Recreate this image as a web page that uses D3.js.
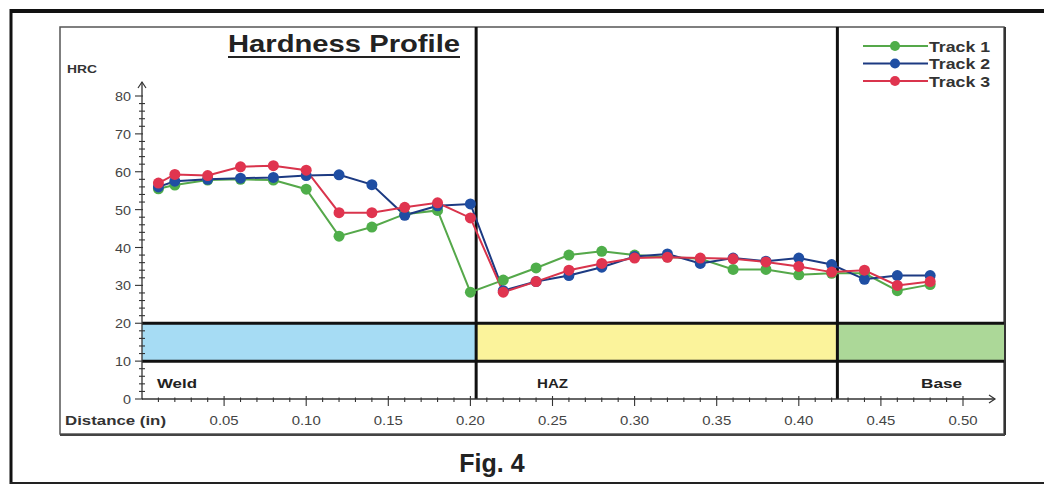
<!DOCTYPE html>
<html><head><meta charset="utf-8">
<script src="https://cdn.jsdelivr.net/npm/d3@7"></script>
<style>html,body{margin:0;padding:0;background:#fff;}svg{display:block;font-family:"Liberation Sans",Arial,sans-serif;}</style>
</head><body>
<svg id="c" width="1044" height="485"></svg>
<script>
const distances = [0.01,0.02,0.04,0.06,0.08,0.10,0.12,0.14,0.16,0.18,0.20,0.22,0.24,0.26,0.28,0.30,0.32,0.34,0.36,0.38,0.40,0.42,0.44,0.46,0.48];
const track1 = [55.5,56.5,57.8,58,57.8,55.4,43,45.4,48.8,49.8,28.2,31.4,34.6,38,39,38,37.5,37,34.2,34.2,32.8,33.2,33.2,28.6,30.2];
const track2 = [56,57.5,58,58.3,58.5,59,59.2,56.6,48.5,51,51.5,28.6,31,32.6,34.8,37.6,38.3,35.8,37.2,36.4,37.2,35.5,31.6,32.6,32.6];
const track3 = [57,59.3,59,61.3,61.6,60.4,49.2,49.2,50.6,51.8,47.8,28.2,31,34,35.8,37.2,37.4,37.2,37,36.2,35,33.5,34,30,31];
const seriesNames = ["Track 1","Track 2","Track 3"];
const xTicks = [0.05,0.10,0.15,0.20,0.25,0.30,0.35,0.40,0.45,0.50];
const yTicks = [0,10,20,30,40,50,60,70,80];
const zones = [{name:"Weld",from:0,to:0.2035},{name:"HAZ",from:0.2035,to:0.4235},{name:"Base",from:0.4235,to:0.6}];

const svg = d3.select("#c");
const x = d3.scaleLinear().domain([0,0.5]).range([142,963]);
const y = d3.scaleLinear().domain([0,80]).range([399,96]);
const boxR = 1004;

function txt(xp, yp, s, size, weight, fill, len, anchor){
  const t = svg.append("text").attr("x",xp).attr("y",yp).attr("font-size",size).attr("fill",fill).text(s);
  if (weight) t.attr("font-weight",weight);
  if (anchor) t.attr("text-anchor",anchor);
  if (len) t.attr("textLength",len).attr("lengthAdjust","spacingAndGlyphs");
  return t;
}

// outer frame
svg.append("line").attr("x1",10).attr("x2",1044).attr("y1",11).attr("y2",11).attr("stroke","#111").attr("stroke-width",4);
svg.append("line").attr("x1",11).attr("x2",11).attr("y1",9).attr("y2",484).attr("stroke","#111").attr("stroke-width",3);
svg.append("line").attr("x1",10).attr("x2",1044).attr("y1",483).attr("y2",483).attr("stroke","#222").attr("stroke-width",2);

// inner box
svg.append("rect").attr("x",60).attr("y",27).attr("width",boxR-60).attr("height",407).attr("fill","#fff").attr("stroke","#555").attr("stroke-width",1.5);
svg.append("line").attr("x1",boxR+1).attr("x2",boxR+1).attr("y1",27).attr("y2",435).attr("stroke","#333").attr("stroke-width",2);
svg.append("line").attr("x1",60).attr("x2",boxR+1).attr("y1",435).attr("y2",435).attr("stroke","#444").attr("stroke-width",2);

// zone bands
const bandCol = {"Weld":"#a6dcf4","HAZ":"#fbf39b","Base":"#acd898"};
zones.forEach(z=>{
  const x0 = x(z.from), x1 = Math.min(x(z.to), boxR);
  svg.append("rect").attr("x",x0).attr("y",y(20)).attr("width",x1-x0).attr("height",y(10)-y(20)).attr("fill",bandCol[z.name]);
});
[10,20].forEach(v=>svg.append("line").attr("x1",x(0)).attr("x2",boxR).attr("y1",y(v)).attr("y2",y(v)).attr("stroke","#111").attr("stroke-width",3));
[zones[1].from, zones[2].from].forEach(v=>svg.append("line").attr("x1",x(v)).attr("x2",x(v)).attr("y1",27).attr("y2",y(0)).attr("stroke","#111").attr("stroke-width",3));

// zone labels
const zl = [{t:"Weld",x:157,w:40},{t:"HAZ",x:537,w:31},{t:"Base",x:921,w:41}];
zl.forEach(d=>txt(d.x,388,d.t,13,"bold","#222",d.w));

// axes
const ax = svg.append("g").attr("stroke","#333").attr("fill","none");
ax.append("line").attr("x1",x(0)).attr("x2",x(0)).attr("y1",y(0)).attr("y2",82).attr("stroke-width",1.3);
ax.append("path").attr("d",`M${x(0)-4},${88} L${x(0)},${82} L${x(0)+4},${88}`).attr("stroke-width",1.2);
ax.append("line").attr("x1",x(0)).attr("x2",995).attr("y1",y(0)).attr("y2",y(0)).attr("stroke-width",1.3);
ax.append("path").attr("d",`M989,${y(0)-4} L995,${y(0)} L989,${y(0)+4}`).attr("stroke-width",1.2);
d3.range(0,81,2).forEach(v=>{
  const major = v%10===0;
  ax.append("line").attr("x1",x(0)-(major?7:3)).attr("x2",x(0)+(major?1:3)).attr("y1",y(v)).attr("y2",y(v)).attr("stroke-width",1.1);
});
d3.range(1,51).forEach(i=>{
  const v=i/100, major = i%5===0;
  ax.append("line").attr("x1",x(v)).attr("x2",x(v)).attr("y1",y(0)-(major?3:1.5)).attr("y2",y(0)+(major?7:3)).attr("stroke-width",1.1);
});
yTicks.forEach(d=>txt(131,y(d)+5,String(d),13.5,null,"#444",d<10?8:16,"end"));
xTicks.forEach(d=>txt(x(d),425,d3.format(".2f")(d),13.5,null,"#444",29,"middle"));
txt(65,425,"Distance (in)",13,"bold","#333",101);
txt(67,73,"HRC",11.5,"bold","#333",30);

// title
txt(228,52,"Hardness Profile",24,"bold","#222",232);
svg.append("line").attr("x1",228).attr("x2",460).attr("y1",57).attr("y2",57).attr("stroke","#222").attr("stroke-width",2);

// series
const colors = ["#55a84a","#1c3a82","#d9344c"];
const markerCols = ["#4fae4a","#1f4ea3","#e0344f"];
const data = [track1,track2,track3];
const line = d3.line().x((d,i)=>x(distances[i])).y(d=>y(d));
data.forEach((s,k)=>{
  svg.append("path").datum(s).attr("d",line).attr("fill","none").attr("stroke",colors[k]).attr("stroke-width",2);
});
data.forEach((s,k)=>{
  svg.append("g").selectAll("circle").data(s).enter().append("circle")
    .attr("cx",(d,i)=>x(distances[i])).attr("cy",d=>y(d)).attr("r",5.5).attr("fill",markerCols[k]);
});

// legend
seriesNames.forEach((n,k)=>{
  const ly = 46 + k*17.5;
  svg.append("line").attr("x1",863).attr("x2",928).attr("y1",ly).attr("y2",ly).attr("stroke",colors[k]).attr("stroke-width",2);
  svg.append("circle").attr("cx",895).attr("cy",ly).attr("r",5).attr("fill",markerCols[k]);
  txt(929,ly+5.5,n,14,"bold","#333",61);
});

// caption
txt(492,472,"Fig. 4",25,"bold","#222",null,"middle");
</script>
</body></html>
